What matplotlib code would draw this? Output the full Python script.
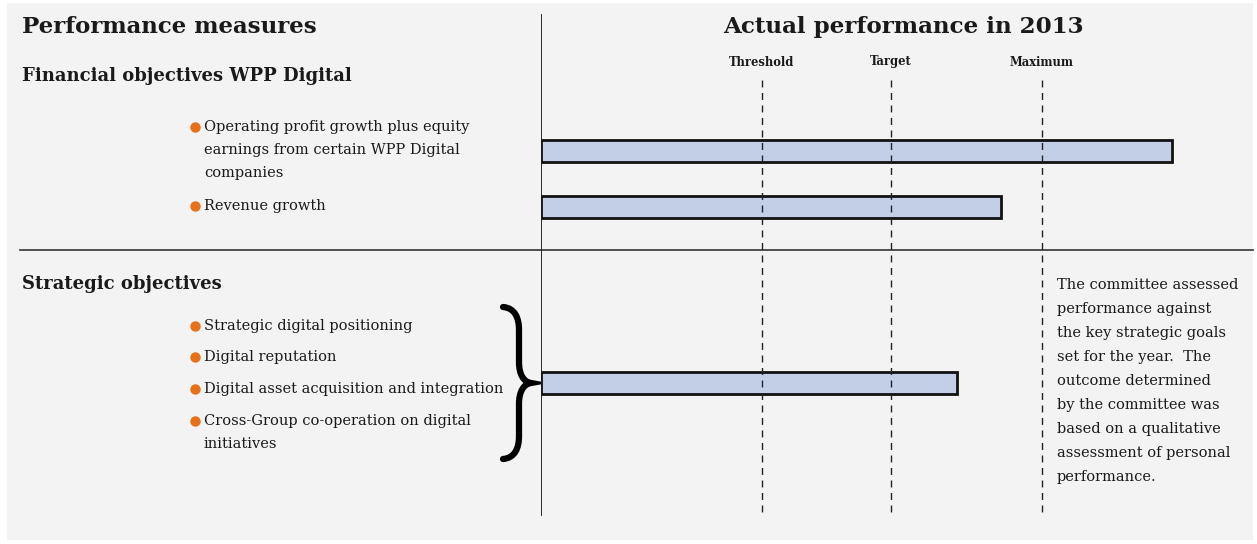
import matplotlib.pyplot as plt
from matplotlib.path import Path
from matplotlib.patches import PathPatch, Rectangle

# data (x scale: Maximum = 100)
marker_names = ['Threshold', 'Target', 'Maximum']
marker_values = [44.1, 69.9, 100]
bar_values = [126.0, 91.8, 83.0]

fin_items = [['Operating profit growth plus equity',
              'earnings from certain WPP Digital',
              'companies'],
             ['Revenue growth']]
strat_items = [['Strategic digital positioning'],
               ['Digital reputation'],
               ['Digital asset acquisition and integration'],
               ['Cross-Group co-operation on digital', 'initiatives']]
note_lines = ['The committee assessed', 'performance against',
              'the key strategic goals', 'set for the year.  The',
              'outcome determined', 'by the committee was',
              'based on a qualitative', 'assessment of personal',
              'performance.']

W, H = 1257, 544
plt.rcParams['font.family'] = ['DejaVu Serif']
fig = plt.figure(figsize=(W / 100, H / 100), dpi=100, facecolor='white')

# background axes in pixel coordinates
bg = fig.add_axes([0, 0, 1, 1])
bg.set_xlim(0, W)
bg.set_ylim(H, 0)
bg.axis('off')
bg.add_patch(Rectangle((7, 3), 1246, 537, facecolor='#f3f3f3', edgecolor='none', zorder=0))

dark = '#1a1a1a'
orange = '#e8701a'

bg.text(22, 27, 'Performance measures', fontsize=16.5, fontweight='bold', color=dark, va='center')
bg.text(903, 27, 'Actual performance in 2013', fontsize=16.6, fontweight='bold', color=dark,
        va='center', ha='center')
bg.text(22, 76, 'Financial objectives WPP Digital', fontsize=13, fontweight='bold',
        color=dark, va='center')
bg.text(22, 284, 'Strategic objectives', fontsize=13, fontweight='bold', color=dark, va='center')

# separator line
bg.plot([20, 1253], [250, 250], color='#333333', lw=1.2)

item_fs = 10.5
line_h = 23


def draw_items(items, y_starts):
    for lines, y0 in zip(items, y_starts):
        bg.plot(195, y0, 'o', color=orange, ms=7.5, mec='none')
        for k, t in enumerate(lines):
            bg.text(204, y0 + k * line_h, t, fontsize=item_fs, color=dark, va='center')


draw_items(fin_items, [127, 206])
draw_items(strat_items, [326, 357, 389, 421])

# brace
verts = [(503, 307), (515, 308), (519, 318), (519, 330), (519, 362),
         (519, 375), (524, 382), (531, 383),
         (524, 384), (519, 391), (519, 404), (519, 436),
         (519, 448), (515, 458), (503, 459)]
codes = [Path.MOVETO, Path.CURVE4, Path.CURVE4, Path.CURVE4, Path.LINETO,
         Path.CURVE4, Path.CURVE4, Path.CURVE4,
         Path.CURVE4, Path.CURVE4, Path.CURVE4, Path.LINETO,
         Path.CURVE4, Path.CURVE4, Path.CURVE4]
bg.add_patch(PathPatch(Path(verts, codes), facecolor='none', edgecolor='black', lw=4.5,
                       capstyle='round'))

# note text
for k, t in enumerate(note_lines):
    bg.text(1057, 285 + k * 24, t, fontsize=10.5, color=dark, va='center')

# chart axes
x0 = 541
scale = 5.01
ax = fig.add_axes([x0 / W, 0, (W - x0) / W, 1])
ax.set_xlim(0, (W - x0) / scale)
ax.set_ylim(H, 0)
ax.axis('off')
ax.patch.set_alpha(0)

ax.plot([0, 0], [15, 515], color=dark, lw=1.3)
ax.vlines(marker_values, 80, 515, colors='#222222', linestyles=(0, (5, 4)), lw=1)
for name, v in zip(marker_names, marker_values):
    ax.text(v, 62, name, fontsize=8.3, fontweight='bold', color=dark, ha='center', va='center')

bar_rows = [151, 207, 382.5]
ax.barh(bar_rows, bar_values, height=22, left=0, color='#c3cfe6', edgecolor='#111111', lw=2)

fig.savefig('out.png', dpi=100, facecolor='white')
